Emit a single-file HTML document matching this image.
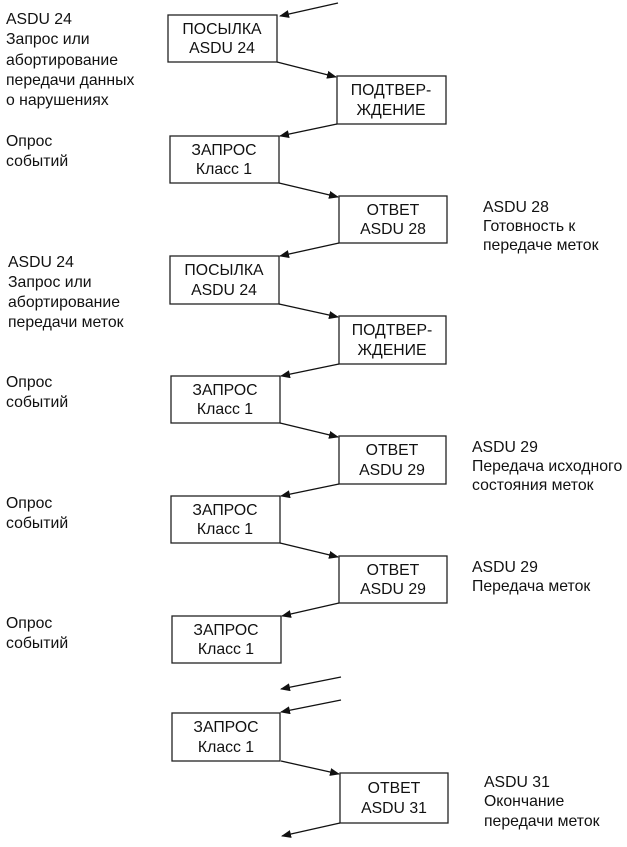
<!DOCTYPE html>
<html><head><meta charset="utf-8"><style>
html,body{margin:0;padding:0;background:#fff;}
svg text{font-family:"Liberation Sans",Arial,sans-serif;font-size:15.8px;fill:#111;}
</style></head><body>
<svg width="627" height="842" viewBox="0 0 627 842" xmlns="http://www.w3.org/2000/svg">
<defs><marker id="a" markerWidth="10" markerHeight="8" refX="9" refY="4" orient="auto" markerUnits="userSpaceOnUse"><path d="M0,0 L10,4 L0,8 z" fill="#111"/></marker></defs>
<g fill="none" stroke="#222" stroke-width="1.3">
<rect x="168" y="15" width="109" height="47"/>
<rect x="337" y="76" width="109" height="48"/>
<rect x="170" y="136" width="109" height="47"/>
<rect x="339" y="196" width="108" height="47"/>
<rect x="170" y="256" width="109" height="48"/>
<rect x="339" y="316" width="107" height="48"/>
<rect x="171" y="376" width="109" height="47"/>
<rect x="339" y="436" width="107" height="48"/>
<rect x="171" y="496" width="109" height="47"/>
<rect x="339" y="556" width="108" height="47"/>
<rect x="172" y="616" width="109" height="47"/>
<rect x="172" y="713" width="108" height="48"/>
<rect x="340" y="773" width="108" height="50"/>
</g>
<g stroke="#111" stroke-width="1.3" marker-end="url(#a)">
<line x1="338" y1="3" x2="280" y2="16"/>
<line x1="277" y1="62" x2="336" y2="77"/>
<line x1="337" y1="124" x2="280" y2="136"/>
<line x1="279" y1="183" x2="338" y2="197"/>
<line x1="339" y1="243" x2="280" y2="256"/>
<line x1="279" y1="304" x2="338" y2="317"/>
<line x1="339" y1="364" x2="281" y2="376"/>
<line x1="280" y1="423" x2="338" y2="437"/>
<line x1="339" y1="484" x2="281" y2="496"/>
<line x1="280" y1="543" x2="338" y2="557"/>
<line x1="339" y1="603" x2="282" y2="616"/>
<line x1="341" y1="677" x2="281" y2="689"/>
<line x1="341" y1="700" x2="281" y2="712"/>
<line x1="281" y1="761" x2="339" y2="774"/>
<line x1="340" y1="823" x2="282" y2="836"/>
</g>
<g text-anchor="middle">
<text x="222" y="34">ПОСЫЛКА</text><text x="222" y="53">ASDU 24</text>
<text x="391" y="95">ПОДТВЕР-</text><text x="391" y="115">ЖДЕНИЕ</text>
<text x="224" y="155">ЗАПРОС</text><text x="224" y="174">Класс 1</text>
<text x="393" y="215">ОТВЕТ</text><text x="393" y="234">ASDU 28</text>
<text x="224" y="275">ПОСЫЛКА</text><text x="224" y="295">ASDU 24</text>
<text x="392" y="335">ПОДТВЕР-</text><text x="392" y="355">ЖДЕНИЕ</text>
<text x="225" y="395">ЗАПРОС</text><text x="225" y="414">Класс 1</text>
<text x="392" y="455">ОТВЕТ</text><text x="392" y="475">ASDU 29</text>
<text x="225" y="515">ЗАПРОС</text><text x="225" y="534">Класс 1</text>
<text x="393" y="575">ОТВЕТ</text><text x="393" y="594">ASDU 29</text>
<text x="226" y="635">ЗАПРОС</text><text x="226" y="654">Класс 1</text>
<text x="226" y="732">ЗАПРОС</text><text x="226" y="752">Класс 1</text>
<text x="394" y="793">ОТВЕТ</text><text x="394" y="813">ASDU 31</text>
</g>
<text x="6" y="24">ASDU 24</text><text x="6" y="44">Запрос или</text><text x="6" y="65">абортирование</text><text x="6" y="85">передачи данных</text><text x="6" y="105">о нарушениях</text>
<text x="6" y="146">Опрос</text><text x="6" y="166">событий</text>
<text x="8" y="267">ASDU 24</text><text x="8" y="287">Запрос или</text><text x="8" y="307">абортирование</text><text x="8" y="327">передачи меток</text>
<text x="6" y="387">Опрос</text><text x="6" y="407">событий</text>
<text x="6" y="508">Опрос</text><text x="6" y="528">событий</text>
<text x="6" y="628">Опрос</text><text x="6" y="648">событий</text>
<text x="483" y="212">ASDU 28</text><text x="483" y="231">Готовность к</text><text x="483" y="250">передаче меток</text>
<text x="472" y="452">ASDU 29</text><text x="472" y="471">Передача исходного</text><text x="472" y="490">состояния меток</text>
<text x="472" y="572">ASDU 29</text><text x="472" y="591">Передача меток</text>
<text x="484" y="787">ASDU 31</text><text x="484" y="806">Окончание</text><text x="484" y="826">передачи меток</text>
</svg>
</body></html>
